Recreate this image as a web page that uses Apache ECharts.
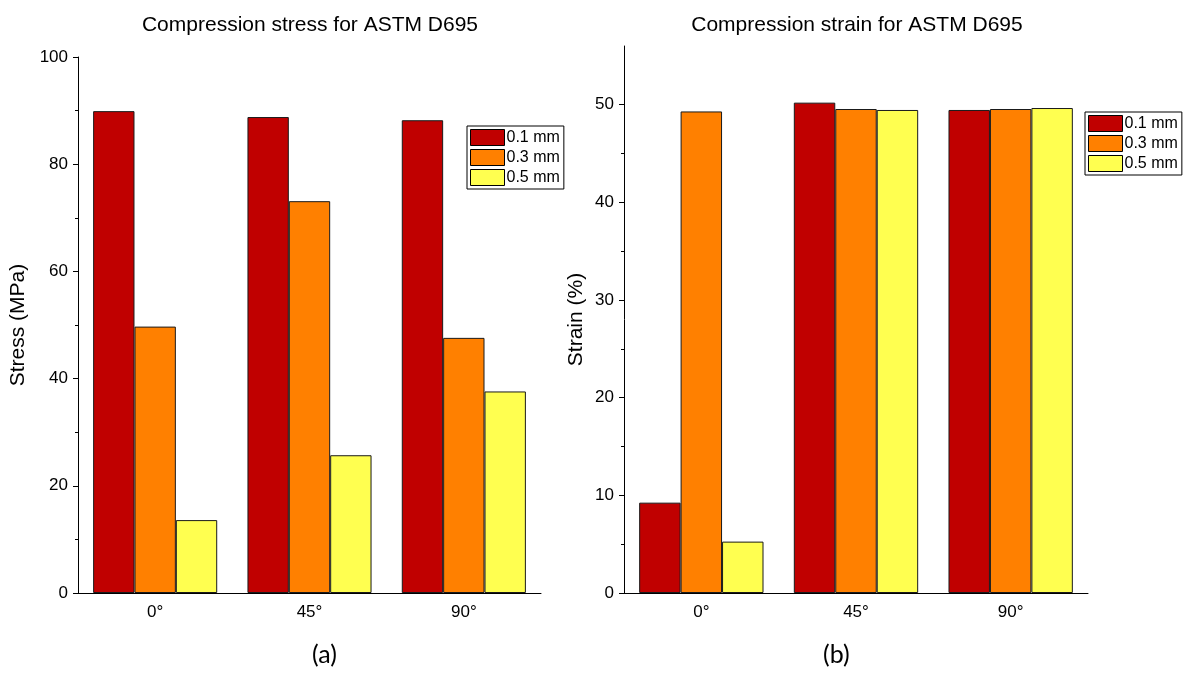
<!DOCTYPE html>
<html>
<head>
<meta charset="utf-8">
<script src="https://cdn.jsdelivr.net/npm/echarts@6/dist/echarts.min.js"></script>
<style>html,body{margin:0;padding:0;background:#fff;}#c{width:1184px;height:675px;}</style>
</head>
<body>
<div id="c"></div>
<script>
const categories = ['0°', '45°', '90°'];
const seriesNames = ['0.1 mm', '0.3 mm', '0.5 mm'];
const stress01 = [89.9, 88.8, 88.2];
const stress03 = [49.7, 73.1, 47.6];
const stress05 = [13.6, 25.7, 37.6];
const strain01 = [9.25, 50.2, 49.45];
const strain03 = [49.3, 49.55, 49.55];
const strain05 = [5.26, 49.45, 49.65];
const stressTicks = [0, 20, 40, 60, 80, 100];
const stressMinor = [10, 30, 50, 70, 90];
const strainTicks = [0, 10, 20, 30, 40, 50];
const strainMinor = [5, 15, 25, 35, 45];
const colors = ['#C00000', '#FF8000', '#FFFF50'];

const FONT = 'Liberation Sans, Arial, sans-serif';
const chart = echarts.init(document.getElementById('c'));

function catAxes(gi) {
  return [
    {
      type: 'category', gridIndex: gi, data: categories, position: 'bottom',
      axisLine: { lineStyle: { color: '#000', width: 1 } },
      axisTick: { alignWithLabel: true, length: 6, lineStyle: { color: '#000' } },
      axisLabel: { color: '#000', fontFamily: FONT, fontSize: 17, margin: 11 }
    },
    {
      type: 'category', gridIndex: gi, data: categories, position: 'bottom',
      axisLine: { show: false },
      axisTick: { length: 4, lineStyle: { color: '#000' } },
      axisLabel: { show: false }
    }
  ];
}
function valAxes(gi, max, ticks, minor, name, gap) {
  return [
    {
      type: 'value', gridIndex: gi, min: 0, max: max, interval: ticks[1] - ticks[0],
      name: name, nameLocation: 'middle', nameGap: gap, nameRotate: 90,
      nameTextStyle: { color: '#000', fontFamily: FONT, fontSize: 21 },
      axisLine: { show: true, lineStyle: { color: '#000', width: 1 } },
      axisTick: { show: true, length: 5, customValues: ticks, lineStyle: { color: '#000' } },
      axisLabel: { color: '#000', fontFamily: FONT, fontSize: 17, margin: 10, customValues: ticks },
      splitLine: { show: false }
    },
    {
      type: 'value', gridIndex: gi, min: 0, max: max, position: 'left',
      axisLine: { show: false },
      axisTick: { show: true, length: 3, customValues: minor, lineStyle: { color: '#000' } },
      axisLabel: { show: false },
      splitLine: { show: false }
    }
  ];
}
function bars(xi, yi, data, idx) {
  return {
    type: 'bar', name: seriesNames[idx], xAxisIndex: xi, yAxisIndex: yi, data: data,
    barGap: '0%', barCategoryGap: '19.6%',
    itemStyle: { color: colors[idx], borderColor: '#1a1a1a', borderWidth: 1 },
    emphasis: { disabled: true }
  };
}
const legendBase = {
  data: seriesNames.map(n => ({ name: n, icon: 'rect' })),
  orient: 'vertical', itemWidth: 34, itemHeight: 16, itemGap: 3,
  padding: [3, 4, 3, 3], borderColor: '#000', borderWidth: 1, selectedMode: false,
  textStyle: { color: '#000', fontFamily: FONT, fontSize: 16, padding: [0, 0, 0, -3] },
  itemStyle: { borderColor: '#000', borderWidth: 1 }
};

chart.setOption({
  animation: false,
  title: [
    { text: 'Compression stress for ASTM D695', left: 305, top: 10, textAlign: 'center',
      textStyle: { fontFamily: FONT, fontSize: 21, fontWeight: 'normal', color: '#000' } },
    { text: 'Compression strain for ASTM D695', left: 852, top: 10, textAlign: 'center',
      textStyle: { fontFamily: FONT, fontSize: 21, fontWeight: 'normal', color: '#000' } }
  ],
  grid: [
    { left: 78, right: 643, top: 57, bottom: 82 },
    { left: 624, right: 96, top: 46, bottom: 82 }
  ],
  xAxis: [...catAxes(0), ...catAxes(1)],
  yAxis: [
    ...valAxes(0, 100, stressTicks, stressMinor, 'Stress (MPa)', 49),
    ...valAxes(1, 56, strainTicks, strainMinor, 'Strain (%)', 37)
  ],
  legend: [
    Object.assign({}, legendBase, { left: 467, top: 126 }),
    Object.assign({}, legendBase, { left: 1085, top: 112 })
  ],
  graphic: [
    { type: 'text', left: 312, top: 642, style: { text: '(a)', font: '25px Lato, "Open Sans", sans-serif', fill: '#000' } },
    { type: 'text', left: 823, top: 642, style: { text: '(b)', font: '25px Lato, "Open Sans", sans-serif', fill: '#000' } }
  ],
  series: [
    bars(0, 0, stress01, 0), bars(0, 0, stress03, 1), bars(0, 0, stress05, 2),
    bars(2, 2, strain01, 0), bars(2, 2, strain03, 1), bars(2, 2, strain05, 2)
  ]
});
</script>
</body>
</html>
